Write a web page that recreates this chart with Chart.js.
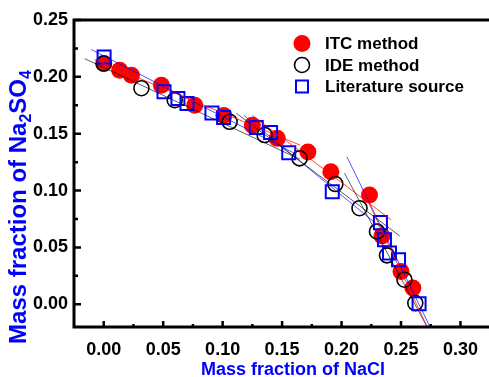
<!DOCTYPE html>
<html>
<head>
<meta charset="utf-8">
<script src="https://cdn.jsdelivr.net/npm/chart.js@4"></script>
<style>
  body { margin: 0; background: #fff; }
  #wrap { width: 489px; height: 377px; }
</style>
</head>
<body>
<div id="wrap"><canvas id="grafico" width="489" height="377"></canvas></div>
<script>
// ITC method (red filled circles)
const itcX = [0, 0.0134, 0.0233, 0.0485, 0.0765, 0.101, 0.125, 0.1459, 0.1717, 0.191, 0.2235, 0.234, 0.25, 0.26];
const itcY = [0.2117, 0.2058, 0.2014, 0.1926, 0.175, 0.166, 0.1575, 0.1459, 0.134, 0.1166, 0.0961, 0.060, 0.0289, 0.0143];
// IDE method (open black circles)
const ideX = [0, 0.0317, 0.0597, 0.1059, 0.1353, 0.1647, 0.1948, 0.2151, 0.2298, 0.2382, 0.2529, 0.2620];
const ideY = [0.2117, 0.19, 0.1795, 0.1605, 0.1488, 0.1283, 0.1057, 0.0845, 0.064, 0.043, 0.0216, 0.001];
// Literature source (open blue squares)
const litX = [0.0003, 0.0507, 0.0624, 0.07, 0.091, 0.1008, 0.1283, 0.1403, 0.1556, 0.1922, 0.2327, 0.2361, 0.2403, 0.2479, 0.2652];
const litY = [0.2175, 0.1868, 0.181, 0.1766, 0.1683, 0.1643, 0.1555, 0.1511, 0.1333, 0.099, 0.0718, 0.0567, 0.045, 0.0391, 0.0004];

// fitted lines: [x1, y1, x2, y2] for each branch
const fitITC = [[-0.008, 0.2152, 0.165, 0.140], [0.125, 0.1660, 0.2418, 0.0742], [0.218, 0.100, 0.273, -0.022]];
const fitIDE = [[-0.016, 0.216, 0.165, 0.1275], [0.1115, 0.168, 0.249, 0.060], [0.2025, 0.1152, 0.273, -0.022]];
const fitLit = [[-0.0104, 0.224, 0.160, 0.133], [0.118, 0.166, 0.236, 0.065], [0.2045, 0.1297, 0.2754, -0.022]];

const xTicks = [0, 0.05, 0.10, 0.15, 0.20, 0.25, 0.30];
const yTicks = [0, 0.05, 0.10, 0.15, 0.20, 0.25];

const xTitle = 'Mass fraction of NaCl';
const yTitle = ['Mass fraction of Na', '2', 'SO', '4'];

const FUENTE = '"Liberation Sans", Arial, sans-serif';

function puntos(xs, ys) {
    return xs.map((x, i) => ({ x: x, y: ys[i] }));
}

function lineas(fits, color) {
    return fits.map(f => ({
        label: '',
        data: [{ x: f[0], y: f[1] }, { x: f[2], y: f[3] }],
        showLine: true,
        borderColor: color,
        borderWidth: 0.9,
        pointRadius: 0,
        fill: false,
        order: 0,
        esAjuste: true
    }));
}

const datasets = [
    ...lineas(fitITC, 'rgba(255,0,0,0.8)'),
    ...lineas(fitIDE, 'rgba(0,0,0,0.7)'),
    ...lineas(fitLit, 'rgba(0,0,255,0.75)'),
    {
        label: 'Literature source',
        data: puntos(litX, litY),
        pointStyle: 'rect',
        pointRadius: 9.2,
        backgroundColor: 'rgba(0,0,0,0)',
        borderColor: '#0000ff',
        borderWidth: 2,
        order: 1
    },
    {
        label: 'IDE method',
        data: puntos(ideX, ideY),
        pointStyle: 'circle',
        pointRadius: 7.5,
        backgroundColor: 'rgba(0,0,0,0)',
        borderColor: '#000000',
        borderWidth: 1.6,
        order: 2
    },
    {
        label: 'ITC method',
        data: puntos(itcX, itcY),
        pointStyle: 'circle',
        pointRadius: 8.5,
        backgroundColor: '#ff0000',
        borderColor: '#ff0000',
        borderWidth: 0,
        order: 3
    }
];

// frame, inward ticks, titles and legend
const marco = {
    id: 'marco',
    afterDraw(chart) {
        const ctx = chart.ctx;
        const a = chart.chartArea;
        const sx = chart.scales.x, sy = chart.scales.y;
        ctx.save();
        ctx.strokeStyle = '#000';
        ctx.lineWidth = 3;
        ctx.beginPath();
        ctx.moveTo(a.left, a.bottom);
        ctx.lineTo(a.left, a.top);
        ctx.lineTo(a.right, a.top);
        ctx.moveTo(a.left - 1.5, a.bottom);
        ctx.lineTo(a.right, a.bottom);
        ctx.stroke();

        // ticks
        ctx.lineWidth = 2.5;
        ctx.beginPath();
        xTicks.forEach(v => {
            const p = sx.getPixelForValue(v);
            ctx.moveTo(p, a.bottom); ctx.lineTo(p, a.bottom - 6);
            const m = sx.getPixelForValue(v + 0.025);
            if (m < a.right) { ctx.moveTo(m, a.bottom); ctx.lineTo(m, a.bottom - 3); }
        });
        yTicks.forEach(v => {
            const p = sy.getPixelForValue(v);
            ctx.moveTo(a.left, p); ctx.lineTo(a.left + 7, p);
            const m = sy.getPixelForValue(v - 0.025);
            if (m < a.bottom) { ctx.moveTo(a.left, m); ctx.lineTo(a.left + 4, m); }
        });
        ctx.stroke();

        // axis titles
        ctx.fillStyle = '#0000ff';
        ctx.font = 'bold 18px ' + FUENTE;
        ctx.textAlign = 'center';
        ctx.textBaseline = 'alphabetic';
        ctx.fillText(xTitle, 293, 375);

        ctx.translate(26, 207);
        ctx.rotate(-Math.PI / 2);
        const big = 'bold 24px ' + FUENTE, small = 'bold 16px ' + FUENTE;
        let total = 0;
        yTitle.forEach((t, i) => { ctx.font = i % 2 ? small : big; total += ctx.measureText(t).width; });
        let px = -total / 2;
        ctx.textAlign = 'left';
        yTitle.forEach((t, i) => {
            ctx.font = i % 2 ? small : big;
            ctx.fillText(t, px, i % 2 ? 5 : 0);
            px += ctx.measureText(t).width;
        });
        ctx.restore();

        // legend
        ctx.save();
        ctx.font = 'bold 17px ' + FUENTE;
        ctx.fillStyle = '#000';
        ctx.textAlign = 'left';
        ctx.textBaseline = 'middle';
        const filas = [43.5, 65, 86.5];
        const ds = chart.data.datasets.filter(d => !d.esAjuste).reverse();
        ds.forEach((d, i) => {
            const y = filas[i];
            ctx.beginPath();
            if (d.pointStyle === 'rect') {
                ctx.lineWidth = 2;
                ctx.strokeStyle = d.borderColor;
                ctx.rect(302 - 6, y - 6, 12, 12);
                ctx.stroke();
            } else if (d.label === 'ITC method') {
                ctx.fillStyle = d.backgroundColor;
                ctx.arc(302, y, 8.5, 0, Math.PI * 2);
                ctx.fill();
            } else {
                ctx.lineWidth = 1.6;
                ctx.strokeStyle = d.borderColor;
                ctx.arc(302, y, 7.5, 0, Math.PI * 2);
                ctx.stroke();
            }
            ctx.fillStyle = '#000';
            ctx.fillText(d.label, 325, y + 1);
        });
        ctx.restore();
    }
};

new Chart(document.getElementById('grafico').getContext('2d'), {
    type: 'scatter',
    data: { datasets: datasets },
    options: {
        responsive: false,
        animation: false,
        layout: { autoPadding: false, padding: { top: 20, right: 0, left: 0, bottom: 0 } },
        plugins: {
            legend: { display: false },
            tooltip: { enabled: false }
        },
        scales: {
            x: {
                type: 'linear',
                min: -0.025,
                max: 0.324,
                afterBuildTicks: s => { s.ticks = xTicks.map(v => ({ value: v })); },
                afterFit: s => { s.height = 50; s.paddingLeft = 0; s.paddingRight = 0; },
                grid: { display: false, drawTicks: false },
                border: { display: false },
                ticks: {
                    padding: 12,
                    color: '#000',
                    font: { family: FUENTE, size: 18, weight: 'bold' },
                    callback: v => v.toFixed(2)
                }
            },
            y: {
                type: 'linear',
                min: -0.02,
                max: 0.25,
                afterBuildTicks: s => { s.ticks = yTicks.map(v => ({ value: v })); },
                afterFit: s => { s.width = 74; s.paddingTop = 0; s.paddingBottom = 0; },
                grid: { display: false, drawTicks: false },
                border: { display: false },
                ticks: {
                    padding: 6,
                    color: '#000',
                    font: { family: FUENTE, size: 18, weight: 'bold' },
                    callback: v => v.toFixed(2)
                }
            }
        }
    },
    plugins: [marco]
});
</script>
</body>
</html>
